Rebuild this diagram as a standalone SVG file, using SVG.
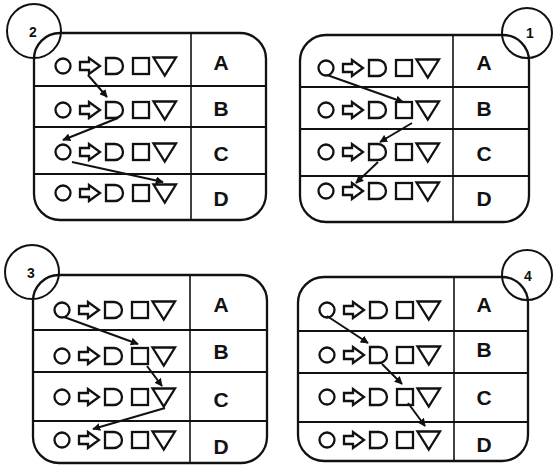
<svg xmlns="http://www.w3.org/2000/svg" width="554" height="469" viewBox="0 0 554 469">
<style>
.box{fill:none;stroke:#111;stroke-width:2.3}
.ln{stroke:#111;stroke-width:2.2}
.dv{stroke:#111;stroke-width:1.6}
.sym{fill:none;stroke:#111;stroke-width:2.3}
.lt{font-family:"Liberation Sans",Arial,sans-serif;font-weight:bold;font-size:21px;fill:#111;text-anchor:middle}
.nc{fill:none;stroke:#111;stroke-width:2}
.nt{font-family:"Liberation Sans",Arial,sans-serif;font-weight:bold;font-size:14px;fill:#111;text-anchor:middle}
.cn{stroke:#111;stroke-width:2;fill:none;marker-end:url(#ah)}
</style>
<defs>
<marker id="ah" viewBox="0 0 10 10" refX="9" refY="5" markerWidth="4" markerHeight="4" orient="auto" markerUnits="strokeWidth">
<path d="M0,0 L10,5 L0,10 Z" fill="#111"/>
</marker>
<g id="row" class="sym">
<circle cx="8" cy="0" r="7.5"/>
<path d="M25,-4 H34 V-8 L45,0 L34,8 V4 H25 Z"/>
<path d="M51,-8 H60 A8,8 0 0 1 60,8 H51 Z"/>
<rect x="78" y="-8" width="16" height="16"/>
<path d="M98.5,-8.5 H121 L109.75,9.5 Z"/>
</g>
</defs>

<g id="panel2">
<rect class="box" x="34" y="33" width="232" height="187" rx="26"/>
<line class="ln" x1="34" y1="86" x2="266" y2="86"/>
<line class="ln" x1="34" y1="127" x2="266" y2="127"/>
<line class="ln" x1="34" y1="174" x2="266" y2="174"/>
<line class="dv" x1="191" y1="33" x2="191" y2="220"/>
<use href="#row" x="55" y="66"/>
<use href="#row" x="55" y="110"/>
<use href="#row" x="55" y="152"/>
<use href="#row" x="55" y="193"/>
<text class="lt" x="221" y="70">A</text>
<text class="lt" x="221" y="116">B</text>
<text class="lt" x="221" y="161">C</text>
<text class="lt" x="221" y="206">D</text>
<circle class="nc" cx="34" cy="31" r="27"/>
<text class="nt" x="33" y="37">2</text>
</g>

<g id="panel1">
<rect class="box" x="300" y="35" width="229" height="187" rx="26"/>
<line class="ln" x1="300" y1="87" x2="529" y2="87"/>
<line class="ln" x1="300" y1="129" x2="529" y2="129"/>
<line class="ln" x1="300" y1="176" x2="529" y2="176"/>
<line class="dv" x1="453" y1="35" x2="453" y2="222"/>
<use href="#row" x="318" y="68"/>
<use href="#row" x="318" y="110"/>
<use href="#row" x="318" y="152"/>
<use href="#row" x="318" y="191"/>
<text class="lt" x="484" y="70">A</text>
<text class="lt" x="484" y="116">B</text>
<text class="lt" x="484" y="161">C</text>
<text class="lt" x="484" y="206">D</text>
<circle class="nc" cx="527" cy="33" r="25"/>
<text class="nt" x="530" y="38">1</text>
</g>

<g id="panel3">
<rect class="box" x="33" y="275" width="234" height="188" rx="26"/>
<line class="ln" x1="33" y1="330" x2="267" y2="330"/>
<line class="ln" x1="33" y1="372" x2="267" y2="372"/>
<line class="ln" x1="33" y1="421" x2="267" y2="421"/>
<line class="dv" x1="190" y1="275" x2="190" y2="463"/>
<use href="#row" x="54" y="310"/>
<use href="#row" x="54" y="356"/>
<use href="#row" x="54" y="397"/>
<use href="#row" x="54" y="440"/>
<text class="lt" x="221" y="312">A</text>
<text class="lt" x="221" y="359">B</text>
<text class="lt" x="221" y="407">C</text>
<text class="lt" x="221" y="454">D</text>
<circle class="nc" cx="32" cy="272" r="27"/>
<text class="nt" x="31" y="278">3</text>
</g>

<g id="panel4">
<rect class="box" x="298" y="277" width="230" height="184" rx="26"/>
<line class="ln" x1="298" y1="331" x2="528" y2="331"/>
<line class="ln" x1="298" y1="373" x2="528" y2="373"/>
<line class="ln" x1="298" y1="422" x2="528" y2="422"/>
<line class="dv" x1="454" y1="277" x2="454" y2="461"/>
<use href="#row" x="319" y="310"/>
<use href="#row" x="319" y="355"/>
<use href="#row" x="319" y="397"/>
<use href="#row" x="319" y="440"/>
<text class="lt" x="484" y="312">A</text>
<text class="lt" x="484" y="357">B</text>
<text class="lt" x="484" y="405">C</text>
<text class="lt" x="484" y="452">D</text>
<circle class="nc" cx="527" cy="275" r="25"/>
<text class="nt" x="528" y="281">4</text>
</g>

<g id="connectors">
<line class="cn" x1="88" y1="75" x2="107" y2="97"/>
<line class="cn" x1="118" y1="118" x2="63" y2="140"/>
<line class="cn" x1="72" y1="162" x2="163" y2="182"/>

<line class="cn" x1="327" y1="75" x2="403" y2="102"/>
<line class="cn" x1="412" y1="123" x2="380" y2="142"/>
<line class="cn" x1="378" y1="162" x2="356" y2="183"/>

<line class="cn" x1="64" y1="317" x2="138" y2="344"/>
<line class="cn" x1="147" y1="366" x2="162" y2="386"/>
<line class="cn" x1="165" y1="408" x2="93" y2="429"/>

<line class="cn" x1="327" y1="316" x2="368" y2="343"/>
<line class="cn" x1="382" y1="364" x2="402" y2="384"/>
<line class="cn" x1="408" y1="403" x2="425" y2="426"/>
</g>
</svg>
